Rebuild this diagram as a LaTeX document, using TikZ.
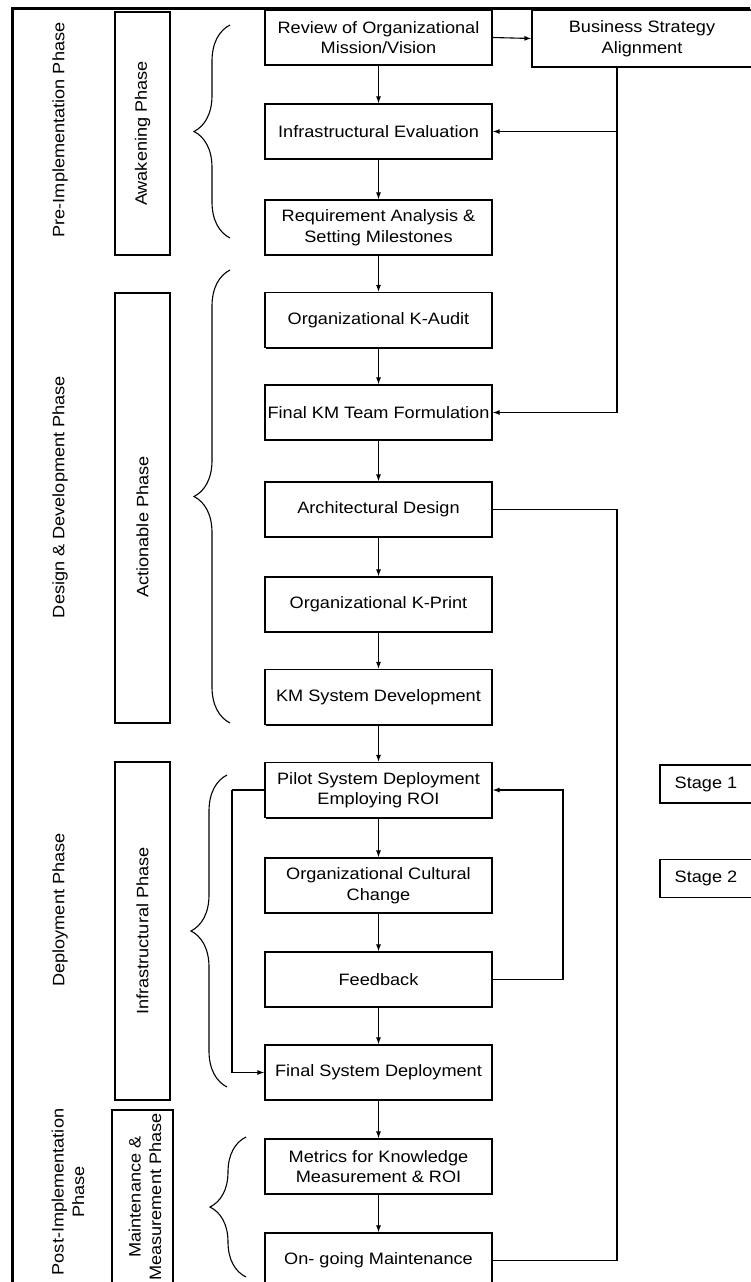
\documentclass[tikz,border=0pt]{standalone}
\usepackage{fontspec}
\setmainfont[FakeStretch=1.1]{Liberation Sans}
\usetikzlibrary{arrows.meta,decorations.pathreplacing,shadows}

\tikzset{
  txt/.style={font=\fontsize{16.5}{20.5}\selectfont},
  stepbox/.style={txt, draw, line width=1.2pt, fill=white, align=center,
    minimum width=227pt, minimum height=55pt, inner sep=2pt,
    drop shadow={shadow xshift=1.3pt, shadow yshift=-1.3pt, opacity=1, fill=black}},
  sidebox/.style={txt, draw, line width=1.2pt, fill=white, align=center,
    minimum height=38pt, inner sep=2pt},
  phasebox/.style={draw, line width=1.2pt, minimum width=55pt},
  phaselabel/.style={txt, rotate=90, align=center},
  flow/.style={line width=1.1pt, -{Latex[length=7pt,width=5pt]}},
  link/.style={line width=1.1pt},
  grp/.style={line width=1.1pt, decorate, decoration={brace, amplitude=36pt}}
}

\begin{document}
\begin{tikzpicture}[x=1pt, y=-1pt]
\useasboundingbox (0,0) rectangle (750,1282);

% outer frame (top and left edges)
\draw[line width=3pt] (750,8) -- (12,8) -- (12,1290);

% phase labels
\node[phaselabel] (pre)  at (60,130) {Pre-Implementation Phase};
\node[phaselabel] (dd)   at (60,497) {Design \& Development Phase};
\node[phaselabel] (dep)  at (60,910) {Deployment Phase};
\node[phaselabel] (post) at (68,1192) {Post-Implementation\\Phase};

% sub-phase boxes
\node[phasebox, minimum height=243pt] (awk) at (142.5,133.5) {};
\node[phasebox, minimum height=430pt] (act) at (142.5,508) {};
\node[phasebox, minimum height=338pt] (inf) at (142.5,931) {};
\node[phasebox, minimum width=61pt, minimum height=185pt, line width=1.8pt] (mm) at (142.5,1202.5) {};
\node[phaselabel] (awkt) at (awk.center) {Awakening Phase};
\node[phaselabel] (actt) at (142.5,527) {Actionable Phase};
\node[phaselabel] (inft) at (inf.center) {Infrastructural Phase};
\node[phaselabel] (mmt)  at (145,1197) {Maintenance \&\\Measurement Phase};

% braces grouping the steps
\draw[grp] (230,238) -- (230,25);
\draw[grp] (230,723) -- (230,270);
\draw[grp] (227,1087) -- (227,775);
\draw[grp] (246,1277) -- (246,1137);

% main steps
\node[stepbox] (s1)  at (378.5,37.5)   {Review of Organizational\\Mission/Vision};
\node[stepbox] (s2)  at (378.5,131.5)  {Infrastructural Evaluation};
\node[stepbox] (s3)  at (378.5,227.5)  {Requirement Analysis \&\\Setting Milestones};
\node[stepbox] (s4)  at (378.5,320)    {Organizational K-Audit};
\node[stepbox] (s5)  at (378.5,412.5)  {Final KM Team Formulation};
\node[stepbox] (s6)  at (378.5,509.5)  {Architectural Design};
\node[stepbox] (s7)  at (378.5,604.5)  {Organizational K-Print};
\node[stepbox] (s8)  at (378.5,697)    {KM System Development};
\node[stepbox] (s9)  at (378.5,790)    {Pilot System Deployment\\Employing ROI};
\node[stepbox] (s10) at (378.5,885.5)  {Organizational Cultural\\Change};
\node[stepbox] (s11) at (378.5,979.5)  {Feedback};
\node[stepbox] (s12) at (378.5,1072.5) {Final System Deployment};
\node[stepbox] (s13) at (378.5,1166.5) {Metrics for Knowledge\\Measurement \& ROI};
\node[stepbox] (s14) at (378.5,1260.5) {On- going Maintenance};

% side boxes
\node[sidebox, minimum width=220pt, minimum height=57pt] (bsa) at (642,38.5) {Business Strategy\\Alignment};
\node[sidebox, minimum width=92pt] (st1) at (706,784) {Stage 1};
\node[sidebox, minimum width=92pt] (st2) at (706,878.5) {Stage 2};

% main flow
\foreach \a/\b in {s1/s2,s2/s3,s3/s4,s4/s5,s5/s6,s6/s7,s7/s8,s8/s9,s9/s10,s10/s11,s11/s12,s12/s13,s13/s14}
  \draw[flow] (\a.south) -- (\b.north);

% strategy alignment feedbacks
\draw[flow] (s1.east) -- (bsa.west);
\coordinate (bsaturn) at (617,412.5);
\draw[link] (bsa.south -| bsaturn) -- (bsaturn);
\draw[flow] (bsaturn) -- (s5.east);
\draw[flow] (bsa.south -| bsaturn) |- (s2.east);

% architecture to maintenance link
\coordinate (archturn) at (617,509.5);
\draw[link] (s6.east) -- (archturn) |- (s14.east);

% feedback loop
\coordinate (fbturn) at (563,979.5);
\draw[link] (s11.east) -- (fbturn);
\draw[flow] (fbturn) |- (s9.east);

% pilot to final deployment
\coordinate (pilotturn) at (232,790);
\draw[link] (s9.west) -- (pilotturn);
\draw[flow] (pilotturn) |- (s12.west);

\end{tikzpicture}
\end{document}
